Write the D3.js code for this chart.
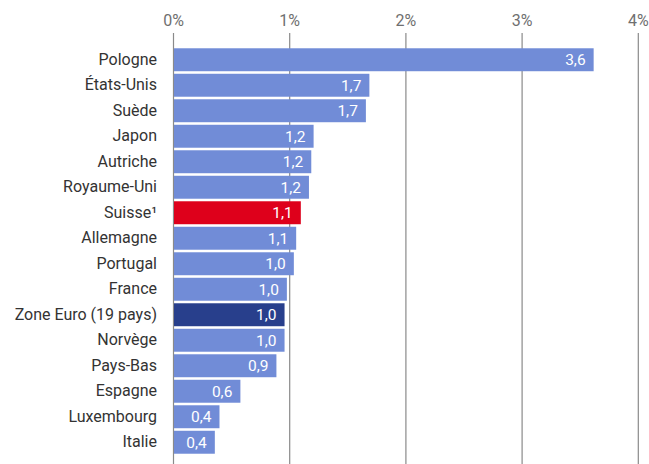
<!DOCTYPE html>
<html>
<head>
<meta charset="utf-8">
<script src="https://cdn.jsdelivr.net/npm/d3@7"></script>
<style>
  body { margin: 0; background: #fff; }
  svg { font-family: Roboto, sans-serif; }
</style>
</head>
<body>
<svg id="chart"></svg>
<script>
var countries = ["Pologne", "États-Unis", "Suède", "Japon", "Autriche", "Royaume-Uni",
    "Suisse¹", "Allemagne", "Portugal", "France", "Zone Euro (19 pays)", "Norvège",
    "Pays-Bas", "Espagne", "Luxembourg", "Italie"];
var values = [3.62, 1.69, 1.66, 1.21, 1.19, 1.17, 1.10, 1.06, 1.04, 0.98, 0.96, 0.96, 0.89, 0.58, 0.40, 0.36];
var ticks = [0, 1, 2, 3, 4];

var width = 649, height = 464;
var margin = {top: 33, right: 11, bottom: 0, left: 173};

var data = countries.map(function(c, i) { return {name: c, value: values[i]}; });

var svg = d3.select("#chart")
    .attr("width", width)
    .attr("height", height);

var x = d3.scaleLinear()
    .domain([0, 4])
    .range([margin.left, margin.left + 464.8]);

var y = d3.scaleBand()
    .domain(countries)
    .range([47, 455])
    .paddingInner(0.1)
    .paddingOuter(0.05);

function barColor(d) {
    if (d.name === "Suisse¹") return "#de001b";
    if (d.name === "Zone Euro (19 pays)") return "#283f8c";
    return "#718cd7";
}

// grid + top axis
var xAxis = d3.axisTop(x)
    .tickValues(ticks)
    .tickFormat(function(d) { return d + "%"; })
    .tickSize(-(height - margin.top))
    .tickPadding(7);

var gx = svg.append("g")
    .attr("transform", "translate(0," + margin.top + ")")
    .call(xAxis);
gx.select(".domain").remove();
gx.selectAll(".tick line")
    .attr("stroke", "#8a8a8a")
    .attr("stroke-width", 1.2);
gx.selectAll(".tick text")
    .attr("fill", "#6f6f6f")
    .style("font-size", "16px")
    .style("font-family", "Roboto, sans-serif");

// bars
svg.append("g")
    .selectAll("rect")
    .data(data)
    .enter()
    .append("rect")
        .attr("x", x(0) + 1)
        .attr("y", function(d) { return y(d.name); })
        .attr("width", function(d) { return x(d.value) - x(0) - 1; })
        .attr("height", y.bandwidth())
        .attr("fill", barColor);

// value labels
var fmt = function(v) { return (Math.round(v * 10) / 10).toFixed(1).replace(".", ","); };
svg.append("g")
    .selectAll("text")
    .data(data)
    .enter()
    .append("text")
        .attr("x", function(d) { return x(d.value) - 8; })
        .attr("y", function(d) { return y(d.name) + y.bandwidth() / 2; })
        .attr("dy", "0.35em")
        .attr("text-anchor", "end")
        .attr("fill", "#fff")
        .style("font-size", "15.5px")
        .text(function(d) { return fmt(d.value); });

// category labels
var yAxis = d3.axisLeft(y).tickSize(0).tickPadding(16);
var gy = svg.append("g")
    .attr("transform", "translate(" + x(0) + ",0)")
    .call(yAxis);
gy.select(".domain").remove();
gy.selectAll(".tick text")
    .attr("fill", "#333")
    .style("font-size", "16px")
    .style("font-family", "Roboto, sans-serif");
</script>
</body>
</html>
